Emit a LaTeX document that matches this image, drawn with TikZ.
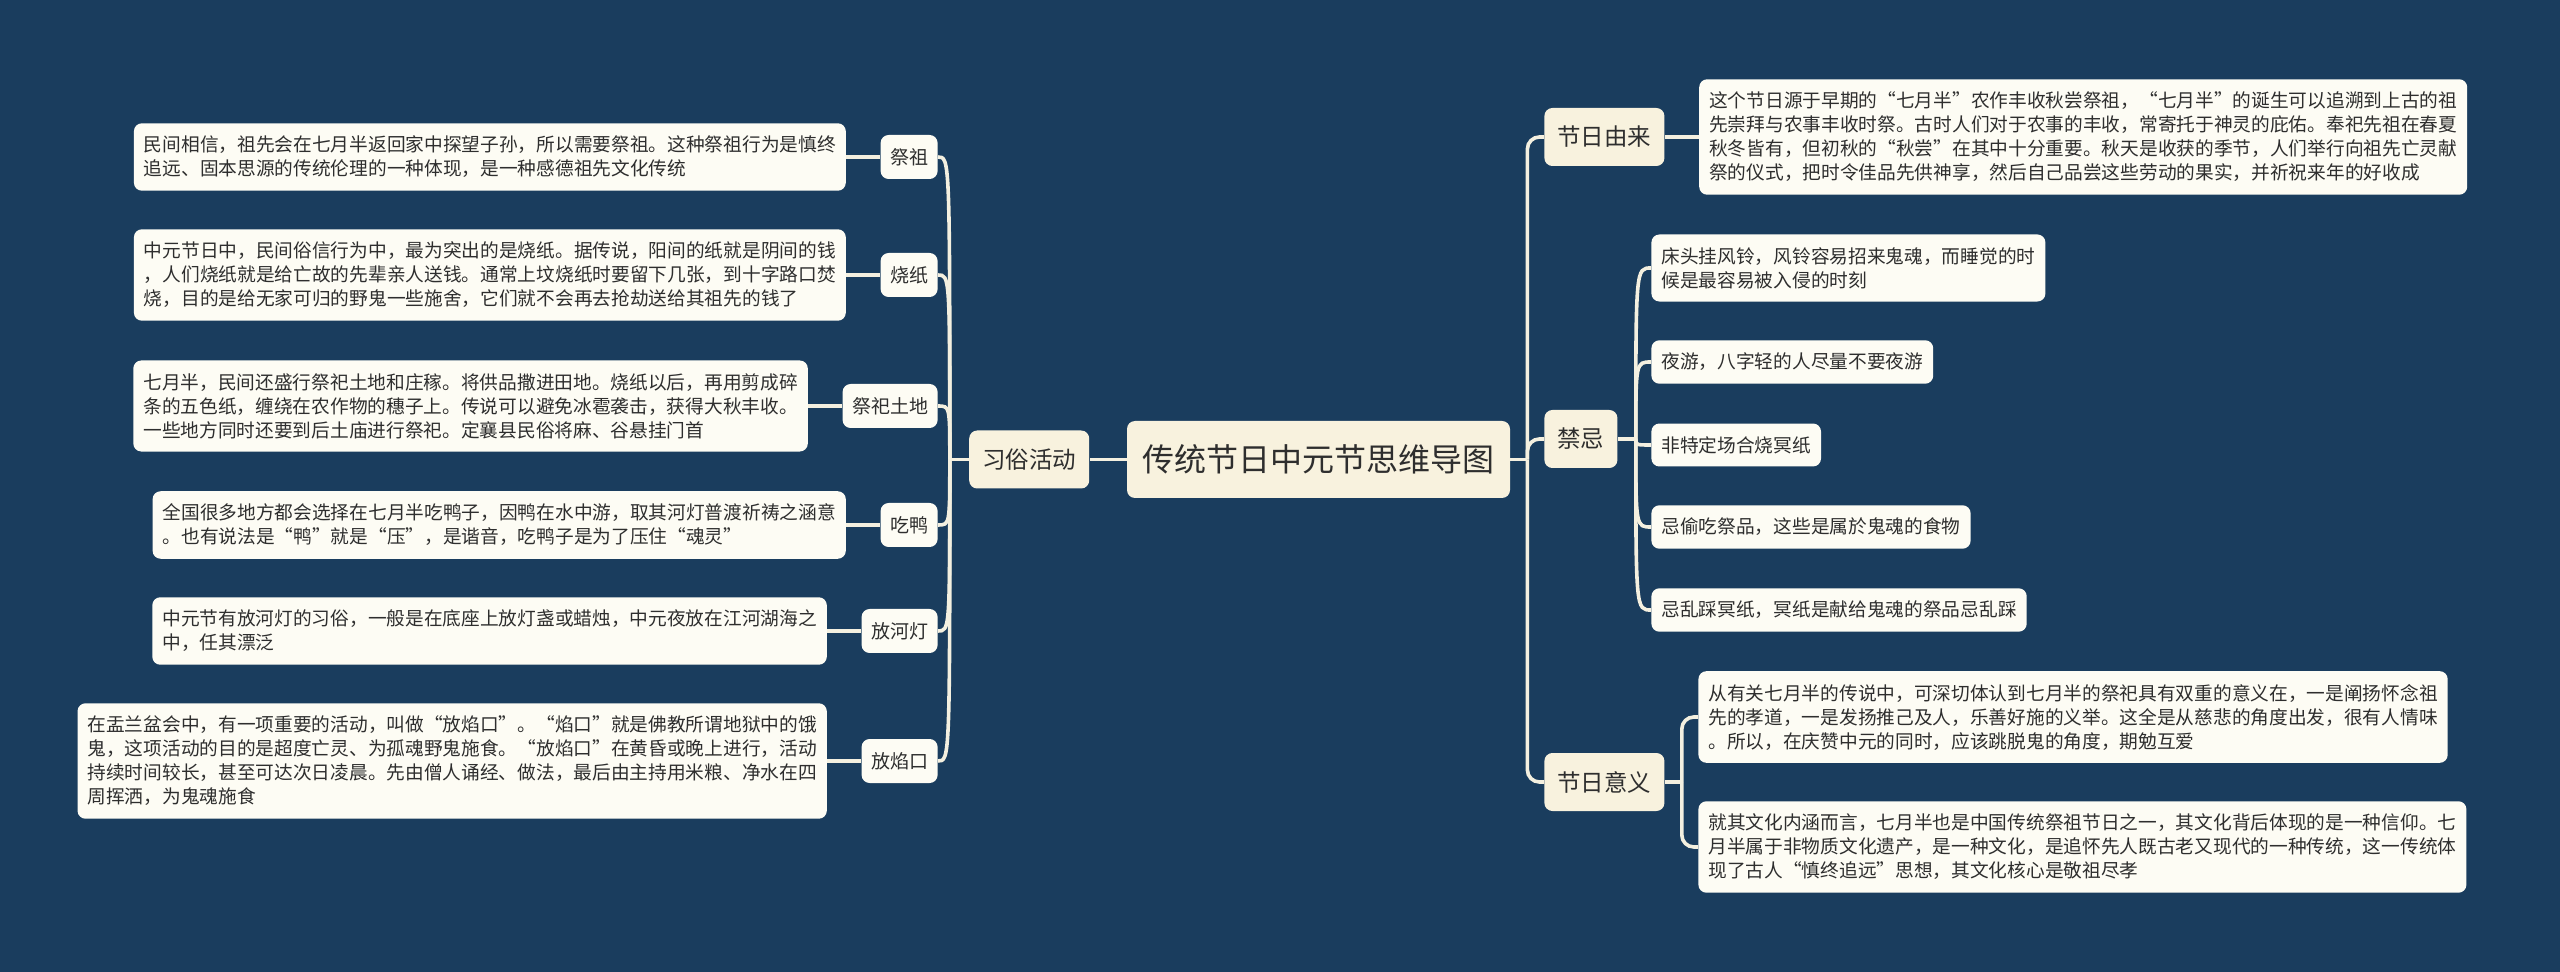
\documentclass[tikz,border=0pt]{standalone}
\usepackage{fontspec}
\setmainfont{Noto Sans CJK SC}
\usepackage{xcolor}
\usetikzlibrary{positioning}
\definecolor{bgblue}{HTML}{1A3D5E}
\definecolor{linkcol}{HTML}{F4F0E0}
\definecolor{topiccol}{HTML}{F8F2DE}
\definecolor{leafcol}{HTML}{FDFCF4}
\definecolor{inkcol}{HTML}{2E2E2E}
\tikzset{
  link/.style={draw=linkcol, line width=1.8pt},
  rootbox/.style={fill=topiccol, rounded corners=4pt, text=inkcol,
                  font=\fontsize{16}{19}\selectfont, inner xsep=7.75pt, minimum height=38.5pt},
  topic/.style={fill=topiccol, rounded corners=4pt, text=inkcol,
                font=\fontsize{11.75}{14}\selectfont, inner xsep=6.5pt, minimum height=29pt},
  leaf/.style={fill=leafcol, rounded corners=4pt, text=inkcol,
               font=\fontsize{9.5}{12}\selectfont, inner xsep=4.75pt, minimum height=22pt},
  note/.style={fill=leafcol, rounded corners=4pt, text=inkcol, align=left,
               font=\fontsize{9.35}{12}\selectfont, inner xsep=5pt, inner ysep=6.4pt},
}

\begin{document}
\begin{tikzpicture}[x=0.5pt, y=-0.5pt, node distance=17pt]
  \fill[bgblue] (0,0) rectangle (2560,972);
  \useasboundingbox (0,0) rectangle (2560,972);

  \node[rootbox] (root) at (1318.5,459.5) {传统节日中元节思维导图};
  \node[topic, left=18.5pt of root] (habit) {习俗活动};

  % left side
  \node[leaf, anchor=east] (jizu) at (938,157) {祭祖};
  \node[note, left=of jizu] (jizu-n) {民间相信，祖先会在七月半返回家中探望子孙，所以需要祭祖。这种祭祖行为是慎终\\
    追远、固本思源的传统伦理的一种体现，是一种感德祖先文化传统};
  \node[leaf, anchor=east] (shaozhi) at (938,275) {烧纸};
  \node[note, left=of shaozhi] (shaozhi-n) {中元节日中，民间俗信行为中，最为突出的是烧纸。据传说，阳间的纸就是阴间的钱\\
    ，人们烧纸就是给亡故的先辈亲人送钱。通常上坟烧纸时要留下几张，到十字路口焚\\
    烧，目的是给无家可归的野鬼一些施舍，它们就不会再去抢劫送给其祖先的钱了};
  \node[leaf, anchor=east] (tudi) at (938,406) {祭祀土地};
  \node[note, left=of tudi] (tudi-n) {七月半，民间还盛行祭祀土地和庄稼。将供品撒进田地。烧纸以后，再用剪成碎\\
    条的五色纸，缠绕在农作物的穗子上。传说可以避免冰雹袭击，获得大秋丰收。\\
    一些地方同时还要到后土庙进行祭祀。定襄县民俗将麻、谷悬挂门首};
  \node[leaf, anchor=east] (chiya) at (938,525) {吃鸭};
  \node[note, left=of chiya] (chiya-n) {全国很多地方都会选择在七月半吃鸭子，因鸭在水中游，取其河灯普渡祈祷之涵意\\
    。也有说法是“鸭”就是“压”，是谐音，吃鸭子是为了压住“魂灵”};
  \node[leaf, anchor=east] (hedeng) at (938,631) {放河灯};
  \node[note, left=of hedeng] (hedeng-n) {中元节有放河灯的习俗，一般是在底座上放灯盏或蜡烛，中元夜放在江河湖海之\\
    中，任其漂泛};
  \node[leaf, anchor=east] (yankou) at (938,761) {放焰口};
  \node[note, left=of yankou] (yankou-n) {在盂兰盆会中，有一项重要的活动，叫做“放焰口”。“焰口”就是佛教所谓地狱中的饿\\
    鬼，这项活动的目的是超度亡灵、为孤魂野鬼施食。“放焰口”在黄昏或晚上进行，活动\\
    持续时间较长，甚至可达次日凌晨。先由僧人诵经、做法，最后由主持用米粮、净水在四\\
    周挥洒，为鬼魂施食};

  % right side
  \node[topic, anchor=west] (origin) at (1544,137) {节日由来};
  \node[note, right=of origin] (origin-n) {这个节日源于早期的“七月半”农作丰收秋尝祭祖，“七月半”的诞生可以追溯到上古的祖\\
    先崇拜与农事丰收时祭。古时人们对于农事的丰收，常寄托于神灵的庇佑。奉祀先祖在春夏\\
    秋冬皆有，但初秋的“秋尝”在其中十分重要。秋天是收获的季节，人们举行向祖先亡灵献\\
    祭的仪式，把时令佳品先供神享，然后自己品尝这些劳动的果实，并祈祝来年的好收成};
  \node[topic, anchor=west] (taboo) at (1544,439) {禁忌};
  \node[note, anchor=west] (taboo-1) at (1651,268) {床头挂风铃，风铃容易招来鬼魂，而睡觉的时\\
    候是最容易被入侵的时刻};
  \node[note, anchor=west] (taboo-2) at (1651,362) {夜游，八字轻的人尽量不要夜游};
  \node[note, anchor=west] (taboo-3) at (1651,445) {非特定场合烧冥纸};
  \node[note, anchor=west] (taboo-4) at (1651,527) {忌偷吃祭品，这些是属於鬼魂的食物};
  \node[note, anchor=west] (taboo-5) at (1651,610) {忌乱踩冥纸，冥纸是献给鬼魂的祭品忌乱踩};
  \node[topic, anchor=west] (meaning) at (1544,782) {节日意义};
  \node[note, anchor=west] (meaning-1) at (1698,717) {从有关七月半的传说中，可深切体认到七月半的祭祀具有双重的意义在，一是阐扬怀念祖\\
    先的孝道，一是发扬推己及人，乐善好施的义举。这全是从慈悲的角度出发，很有人情味\\
    。所以，在庆赞中元的同时，应该跳脱鬼的角度，期勉互爱};
  \node[note, anchor=west] (meaning-2) at (1698,847) {就其文化内涵而言，七月半也是中国传统祭祖节日之一，其文化背后体现的是一种信仰。七\\
    月半属于非物质文化遗产，是一种文化，是追怀先人既古老又现代的一种传统，这一传统体\\
    现了古人“慎终追远”思想，其文化核心是敬祖尽孝};

  % connectors
  \coordinate (hj) at ([xshift=-9.5pt]habit.west);
  \draw[link] (root.west) -- (habit.east);
  \draw[link] (habit.west) -- (hj);
  \foreach \n in {jizu,shaozhi,tudi,chiya,hedeng,yankou} {
    \draw[link] (hj) .. controls (hj |- \n.east) .. (\n.east);
    \draw[link] (\n.west) -- (\n-n.east);
  }
  \coordinate (rj) at ([xshift=8.5pt]root.east);
  \draw[link] (root.east) -- (rj);
  \foreach \n in {origin,taboo,meaning}
    \draw[link, rounded corners=6pt] (rj) |- (\n.west);
  \draw[link] (origin.east) -- (origin-n.west);
  \coordinate (tj) at ([xshift=9pt]taboo.east);
  \draw[link] (taboo.east) -- (tj);
  \foreach \i in {1,...,5}
    \draw[link] (tj) .. controls (tj |- taboo-\i.west) .. (taboo-\i.west);
  \coordinate (mj) at ([xshift=8.5pt]meaning.east);
  \draw[link] (meaning.east) -- (mj);
  \foreach \i in {1,2}
    \draw[link, rounded corners=6pt] (mj) |- (meaning-\i.west);
\end{tikzpicture}
\end{document}
